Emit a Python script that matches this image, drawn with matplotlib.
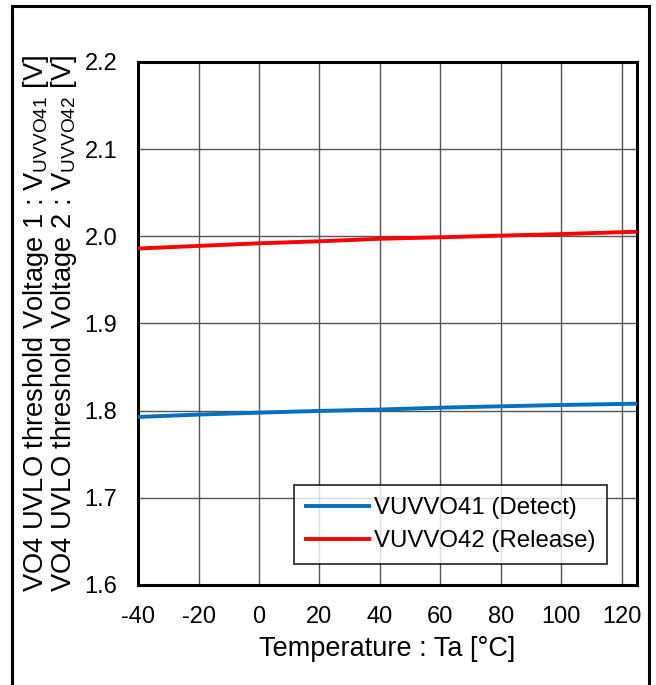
import matplotlib
matplotlib.use('Agg')
import matplotlib.pyplot as plt
import numpy as np
from matplotlib.patches import Rectangle
from matplotlib.legend_handler import HandlerLine2D

plt.rcParams['font.family'] = ['Liberation Sans', 'DejaVu Sans']
plt.rcParams['mathtext.fontset'] = 'custom'
plt.rcParams['mathtext.rm'] = 'Liberation Sans'
plt.rcParams['axes.unicode_minus'] = False

# Data
temperature = [-40, -20, 0, 20, 40, 60, 80, 100, 125]
vuvvo41_detect = [1.7928, 1.7955, 1.7977, 1.7997, 1.8013, 1.8034, 1.8050, 1.8065, 1.8080]
vuvvo42_release = [1.9860, 1.9890, 1.9920, 1.9943, 1.9972, 1.9989, 2.0008, 2.0026, 2.0053]

x_ticks = [-40, -20, 0, 20, 40, 60, 80, 100, 120]
y_ticks = [1.6, 1.7, 1.8, 1.9, 2.0, 2.1, 2.2]


class IndentedLine(HandlerLine2D):
    # legend line that starts a little in from the frame
    def create_artists(self, legend, orig_handle, xdescent, ydescent, width, height, fontsize, trans):
        arts = super().create_artists(legend, orig_handle, xdescent, ydescent, width, height, fontsize, trans)
        for a in arts:
            xd = np.asarray(a.get_xdata(), float)
            if len(xd) == 2:
                a.set_xdata([xd[0] + 8, xd[1]])
        return arts


fig = plt.figure(figsize=(6.56, 6.85), dpi=100)
ax = fig.add_axes([0.2104, 0.146, 0.7606, 0.7635])

ax.plot(temperature, vuvvo41_detect, color='#0070C0', lw=2.8, label='VUVVO41 (Detect)', zorder=3)
ax.plot(temperature, vuvvo42_release, color='#FF0000', lw=2.8, label='VUVVO42 (Release)', zorder=3)

ax.set_xlim(-40, 125)
ax.set_ylim(1.6, 2.2)
ax.set_xticks(x_ticks)
ax.set_yticks(y_ticks)
ax.set_yticklabels([f'{v:.1f}' for v in y_ticks])
ax.tick_params(length=0, labelsize=17, pad=15)
ax.grid(True, color='#555555', lw=1.0)
ax.set_axisbelow(True)
for s in ax.spines.values():
    s.set_linewidth(2.2)
    s.set_color('black')

ax.set_xlabel('Temperature : Ta [°C]', fontsize=19.5, labelpad=6)
ax.set_ylabel('VO4 UVLO threshold Voltage 1 : V$_\\mathregular{UVVO41}$ [V]\n'
              'VO4 UVLO threshold Voltage 2 : V$_\\mathregular{UVVO42}$ [V]',
              fontsize=19.6, linespacing=0.9, labelpad=4)

leg = ax.legend(loc='lower right', bbox_to_anchor=(0.94, 0.04), fontsize=17.3,
                frameon=True, fancybox=False, handlelength=2.6, borderpad=0.5,
                labelspacing=0.45, handletextpad=0.2, borderaxespad=0,
                handler_map={plt.Line2D: IndentedLine()})
leg.get_frame().set_edgecolor('black')
leg.get_frame().set_linewidth(1.3)

# outer frame around the figure
fig.patches.append(Rectangle((0.0183, -0.05), 0.971, 1.0412, transform=fig.transFigure,
                             fill=False, edgecolor='black', lw=2.2))

fig.savefig('out.png', dpi=100)
